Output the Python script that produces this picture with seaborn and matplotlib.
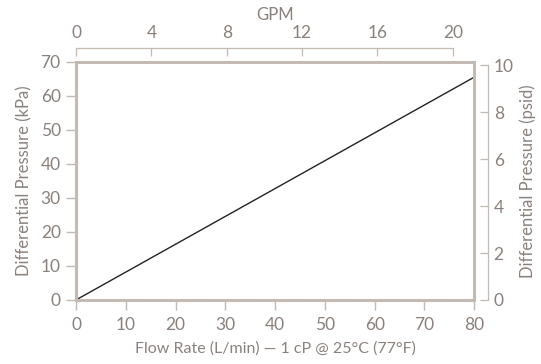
import matplotlib
matplotlib.use("Agg")
import matplotlib.pyplot as plt
import seaborn as sns
import numpy as np

# data
flow_lpm = [0, 80]
dp_kpa = [0, 65.5]
x_ticks = [0, 10, 20, 30, 40, 50, 60, 70, 80]
y_ticks = [0, 10, 20, 30, 40, 50, 60, 70]
gpm_ticks = [0, 4, 8, 12, 16, 20]
psid_ticks = [0, 2, 4, 6, 8, 10]

LPM_PER_GPM = 3.785411784
KPA_PER_PSI = 6.894757

frame = "#c3bab4"
text = "#8a817c"

sns.set_theme(style="white")
plt.rcParams["font.family"] = ["Lato", "DejaVu Sans"]

fig = plt.figure(figsize=(5.41, 3.64), dpi=100)
ax = fig.add_axes([0.1405, 0.176, 0.736, 0.654])

sns.lineplot(x=flow_lpm, y=dp_kpa, ax=ax, color="#222222", linewidth=1)
ax.set_xlim(0, 80)
ax.set_ylim(0, 70)
ax.set_xticks(x_ticks)
ax.set_yticks(y_ticks)
for s in ax.spines.values():
    s.set_visible(True)
    s.set_color(frame)
    s.set_linewidth(2.2)
ax.tick_params(axis="both", direction="out", length=7, width=1, color=frame,
               labelcolor=text, labelsize=12.5, pad=4)
ax.tick_params(axis="x", bottom=True, pad=5)
ax.tick_params(axis="y", left=True)
ax.set_xlabel("Flow Rate (L/min) — 1 cP @ 25°C (77°F)", color=text, fontsize=11.5, labelpad=6)
ax.set_ylabel("Differential Pressure (kPa)", color=text, fontsize=12, labelpad=6)

# top GPM axis, ticks pointing down toward the frame
axt = ax.twiny()
axt.set_xlim(0, 80 / LPM_PER_GPM)
axt.set_xticks(gpm_ticks)
for name, s in axt.spines.items():
    s.set_visible(name == "top")
axt.spines["top"].set_position(("outward", 10))
axt.spines["top"].set_bounds(0, 20)
axt.spines["top"].set_color(frame)
axt.spines["top"].set_linewidth(0.9)
axt.tick_params(axis="x", top=True, direction="in", length=6, width=0.9, color=frame,
                labelcolor=text, labelsize=12.5, pad=5)
axt.set_xlabel("GPM", color=text, fontsize=12)
axt.xaxis.set_label_coords(0.5, 1.176)

# right psid axis, ticks pointing left toward the frame
axr = ax.twinx()
axr.set_ylim(0, 70 / KPA_PER_PSI)
axr.set_yticks(psid_ticks)
for name, s in axr.spines.items():
    s.set_visible(name == "right")
axr.spines["right"].set_position(("outward", 10))
axr.spines["right"].set_bounds(0, 10)
axr.spines["right"].set_color(frame)
axr.spines["right"].set_linewidth(0.9)
axr.tick_params(axis="y", right=True, direction="in", length=6, width=0.9, color=frame,
                labelcolor=text, labelsize=12.5, pad=4)
axr.set_ylabel("Differential Pressure (psid)", color=text, fontsize=12, labelpad=4)
axr.grid(False)
axt.grid(False)
ax.grid(False)

fig.savefig("out.png", dpi=100)
